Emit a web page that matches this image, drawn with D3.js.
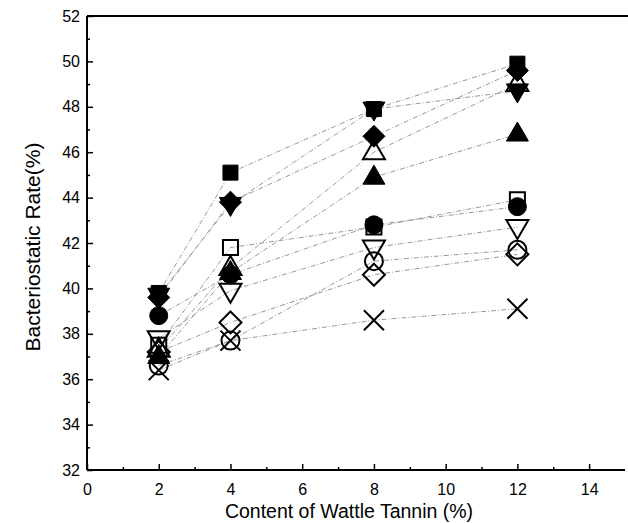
<!DOCTYPE html>
<html>
<head>
<meta charset="utf-8">
<script src="https://cdn.jsdelivr.net/npm/d3@7"></script>
<style>
  body { margin: 0; background: #fff; }
  text { font-family: "Liberation Sans", Arial, sans-serif; fill: #000; }
</style>
</head>
<body>
<svg id="chart" width="628" height="523"></svg>
<script>
// tannin content (%)
var contents = [2, 4, 8, 12];

// bacteriostatic rate (%) per sample
var filledSquare   = [39.8, 45.1, 47.9, 49.9];
var filledDiamond  = [39.6, 43.8, 46.7, 49.6];
var filledDown     = [39.7, 43.7, 47.9, 48.7];
var openUp         = [37.3, 40.9, 46.0, 49.0];
var filledUp       = [37.0, 40.7, 44.9, 46.8];
var openSquare     = [37.5, 41.8, 42.7, 43.9];
var filledCircle   = [38.8, 40.6, 42.8, 43.6];
var openDown       = [37.8, 39.9, 41.8, 42.7];
var openCircle     = [36.6, 37.7, 41.2, 41.7];
var openDiamond    = [37.2, 38.5, 40.6, 41.5];
var crossSeries    = [36.4, 37.7, 38.6, 39.1];

var xTicks = [0, 2, 4, 6, 8, 10, 12, 14];
var yTicks = [32, 34, 36, 38, 40, 42, 44, 46, 48, 50, 52];

var seriesList = [
    {v: openCircle, shape: "circle", fill: false},
    {v: crossSeries, shape: "cross", fill: false},
    {v: openDiamond, shape: "diamond", fill: false},
    {v: openDown, shape: "down", fill: false},
    {v: openSquare, shape: "square", fill: false},
    {v: openUp, shape: "up", fill: false},
    {v: filledCircle, shape: "circle", fill: true},
    {v: filledUp, shape: "up", fill: true},
    {v: filledDown, shape: "down", fill: true},
    {v: filledDiamond, shape: "diamond", fill: true},
    {v: filledSquare, shape: "square", fill: true}
];

var svg = d3.select("#chart");

var plotLeft = 87, plotRight = 625, plotTop = 16, plotBottom = 470;

var x = d3.scaleLinear().domain([0, 15]).range([plotLeft, plotRight]);
var y = d3.scaleLinear().domain([32, 52]).range([plotBottom, plotTop]);

/**
 * marker path centered on 0,0
 */
function markerPath(shape) {
    switch (shape) {
        case "square": return "M-7.5,-7.5H7.5V7.5H-7.5Z";
        case "diamond": return "M0,-11L11,0L0,11L-11,0Z";
        case "up": return "M0,-12L11,7L-11,7Z";
        case "down": return "M0,12L11,-7L-11,-7Z";
        case "circle": return "M9,0A9,9 0 1,1 -9,0A9,9 0 1,1 9,0Z";
        case "cross": return "M-10,-10L10,10M10,-10L-10,10";
    }
}

// connecting lines
var line = d3.line()
        .x(function(d, i) { return x(contents[i]); })
        .y(function(d) { return y(d); });

seriesList.forEach(function(s) {
    svg.append("path")
            .attr("d", line(s.v))
            .style("fill", "none")
            .style("stroke", "#999")
            .style("stroke-width", "1px")
            .style("stroke-dasharray", "5,2,1,2");
});

// markers
seriesList.forEach(function(s) {
    svg.selectAll(null)
            .data(s.v)
            .enter()
            .append("path")
            .attr("d", markerPath(s.shape))
            .attr("transform", function(d, i) {
                return "translate(" + x(contents[i]) + "," + y(d) + ")";
            })
            .style("fill", s.fill ? "#000" : "none")
            .style("stroke", "#000")
            .style("stroke-width", s.fill ? "1px" : "2px");
});

// axes
var xAxis = d3.axisBottom(x).tickValues(d3.range(0, 15, 1)).tickSize(-6)
        .tickFormat(function(d) { return xTicks.indexOf(d) >= 0 ? d : ""; });
var gx = svg.append("g").attr("transform", "translate(0," + plotBottom + ")").call(xAxis);
gx.selectAll(".tick line").attr("y2", function(d) { return d % 2 === 0 ? -6 : -3; });
gx.selectAll(".tick text").attr("y", 14).style("font-size", "16px");

var yAxis = d3.axisLeft(y).tickValues(d3.range(32, 52.5, 1)).tickSize(-6)
        .tickFormat(function(d) { return yTicks.indexOf(d) >= 0 ? d : ""; });
var gy = svg.append("g").attr("transform", "translate(" + plotLeft + ",0)").call(yAxis);
gy.selectAll(".tick line").attr("x2", function(d) { return d % 2 === 0 ? 6 : 3; });
gy.selectAll(".tick text").attr("x", -7).style("font-size", "16px");

gx.select(".domain").attr("d", "M" + plotLeft + ",0H" + plotRight);
gy.select(".domain").attr("d", "M0," + plotTop + "V" + plotBottom);
svg.selectAll(".domain").style("stroke", "#000").style("stroke-width", "2px");
svg.selectAll(".tick line").style("stroke", "#000").style("stroke-width", "1.5px");

// top frame line
svg.append("line")
        .attr("x1", plotLeft).attr("x2", 628)
        .attr("y1", plotTop).attr("y2", plotTop)
        .style("stroke", "#000").style("stroke-width", "2px");

// titles
svg.append("text")
        .attr("x", 349).attr("y", 518)
        .attr("text-anchor", "middle")
        .style("font-size", "19.5px")
        .text("Content of Wattle Tannin (%)");

svg.append("text")
        .attr("transform", "translate(40,247) rotate(-90)")
        .attr("text-anchor", "middle")
        .style("font-size", "21px")
        .text("Bacteriostatic Rate(%)");
</script>
</body>
</html>
